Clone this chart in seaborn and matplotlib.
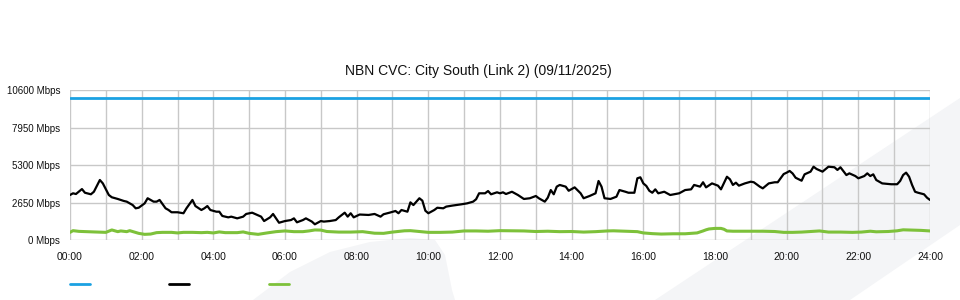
import numpy as np
import pandas as pd
import matplotlib
matplotlib.use("Agg")
import matplotlib.pyplot as plt
from matplotlib.patches import Polygon
from matplotlib.lines import Line2D
import seaborn as sns

title = "NBN CVC: City South (Link 2) (09/11/2025)"

# capacity (blue)
cap_minutes = [0, 1440]
cap_mbps = [10000, 10000]

# traffic (black)
tr_minutes = [0, 5, 10, 20, 25, 35, 40, 50, 55, 65, 70, 80, 90, 95, 105, 110, 115, 125, 130,
              140, 145, 150, 160, 165, 170, 180, 190, 195, 205, 210, 220, 225, 230, 235, 245,
              250, 255, 265, 270, 280, 290, 295, 305, 320, 325, 335, 340, 350, 360, 370, 375,
              380, 390, 395, 405, 410, 420, 425, 435, 445, 450, 460, 465, 470, 475, 485, 500,
              510, 520, 525, 535, 545, 550, 555, 565, 570, 575, 585, 590, 595, 600, 610, 615,
              625, 630, 640, 655, 665, 675, 680, 685, 695, 700, 705, 715, 720, 725, 730, 740,
              750, 760, 770, 780, 785, 795, 800, 805, 810, 815, 820, 830, 835, 845, 855, 860,
              870, 880, 885, 890, 895, 905, 915, 920, 930, 935, 945, 950, 955, 960, 965, 970,
              975, 980, 985, 995, 1005, 1020, 1030, 1040, 1045, 1055, 1060, 1065, 1075, 1085,
              1090, 1100, 1105, 1110, 1115, 1120, 1130, 1140, 1145, 1155, 1160, 1170, 1180,
              1185, 1195, 1200, 1205, 1210, 1215, 1225, 1230, 1240, 1245, 1250, 1260, 1270,
              1280, 1285, 1290, 1300, 1305, 1315, 1320, 1330, 1335, 1340, 1345, 1350, 1360,
              1375, 1385, 1390, 1395, 1400, 1405, 1410, 1415, 1420, 1430, 1435, 1440]
tr_mbps = [3180, 3300, 3250, 3600, 3340, 3230, 3410, 4240, 4000, 3180, 3020, 2900, 2760, 2710,
           2470, 2240, 2280, 2590, 2950, 2710, 2710, 2830, 2240, 2120, 1960, 1960, 1890, 2240,
           2830, 2400, 2120, 2240, 2400, 2120, 2000, 2000, 1700, 1600, 1650, 1530, 1650, 1840,
           1930, 1650, 1340, 1600, 1840, 1220, 1340, 1410, 1530, 1250, 1410, 1530, 1300, 1110,
           1340, 1300, 1340, 1410, 1600, 1930, 1650, 1890, 1600, 1800, 1770, 1840, 1650, 1820,
           1930, 2050, 1890, 2120, 2000, 2660, 2470, 2950, 2780, 2070, 1890, 2120, 2280, 2240,
           2360, 2430, 2520, 2590, 2710, 2880, 3300, 3300, 3460, 3230, 3370, 3300, 3370, 3250,
           3410, 3180, 2900, 2950, 3110, 2950, 2710, 2990, 3530, 3230, 3770, 3890, 3770, 3480,
           3720, 3300, 2950, 3110, 3300, 4170, 3770, 2950, 2900, 3060, 3530, 3410, 3340, 3340,
           4360, 4430, 4000, 3820, 3480, 3340, 3580, 3300, 3410, 3180, 3300, 3530, 3580, 3890,
           3770, 4080, 3720, 4000, 3840, 3580, 4470, 4290, 3890, 4050, 3840, 4000, 4120, 4080,
           3770, 3650, 4000, 4080, 4080, 4660, 4760, 4880, 4700, 4400, 4190, 4640, 4830, 5180,
           5020, 4830, 5180, 5140, 4950, 5140, 4590, 4710, 4520, 4360, 4520, 4710, 4520, 4640,
           4240, 4000, 3940, 3940, 4170, 4590, 4760, 4470, 3890, 3410, 3340, 3230, 2990, 2830]

# green series
gr_minutes = [0, 5, 15, 40, 60, 70, 80, 85, 95, 100, 115, 125, 135, 145, 155, 170, 180, 190,
              205, 220, 230, 240, 250, 260, 280, 290, 300, 315, 330, 345, 360, 375, 390, 400,
              410, 420, 430, 450, 470, 490, 510, 525, 540, 560, 570, 585, 600, 620, 640, 660,
              680, 700, 720, 740, 760, 780, 800, 820, 840, 860, 880, 900, 910, 930, 950, 960,
              975, 990, 1010, 1030, 1050, 1060, 1065, 1070, 1080, 1090, 1095, 1100, 1110, 1140,
              1160, 1180, 1195, 1210, 1225, 1240, 1255, 1270, 1290, 1310, 1325, 1340, 1350,
              1370, 1385, 1395, 1410, 1425, 1440]
gr_mbps = [540, 660, 610, 570, 540, 710, 590, 640, 590, 660, 470, 400, 420, 520, 540, 540, 500,
           540, 540, 520, 540, 500, 570, 520, 520, 570, 470, 400, 500, 590, 640, 590, 590, 640,
           710, 700, 600, 560, 560, 590, 480, 470, 560, 650, 660, 600, 540, 540, 560, 640, 640,
           620, 660, 650, 640, 600, 620, 590, 600, 560, 590, 640, 650, 620, 590, 500, 450, 420,
           440, 440, 500, 640, 720, 780, 820, 820, 760, 640, 620, 620, 620, 600, 540, 540, 560,
           600, 640, 560, 560, 540, 560, 620, 580, 600, 650, 720, 700, 680, 640]

y_ticks = [0, 2650, 5300, 7950, 10600]
y_labels = ["0 Mbps", "2650 Mbps", "5300 Mbps", "7950 Mbps", "10600 Mbps"]
x_ticks = [0, 2, 4, 6, 8, 10, 12, 14, 16, 18, 20, 22, 24]
x_labels = ["00:00", "02:00", "04:00", "06:00", "08:00", "10:00", "12:00",
            "14:00", "16:00", "18:00", "20:00", "22:00", "24:00"]

sns.set_theme(style="white")
plt.rcParams["font.family"] = ["Liberation Sans", "DejaVu Sans"]

W, H = 960, 300
fig = plt.figure(figsize=(9.6, 3.0), dpi=100)
fig.patch.set_facecolor("white")

def fc(pts):
    return [(x / W, 1 - y / H) for x, y in pts]

# background watermark shapes
wm = "#f4f5f7"
fig.patches.append(Polygon(fc([(655, 300), (960, 98), (960, 225), (850, 300)]),
                           closed=True, transform=fig.transFigure, facecolor=wm,
                           edgecolor="none", zorder=-2))
fig.patches.append(Polygon(fc([(253, 300), (290, 272), (330, 252), (370, 242), (410, 238),
                               (435, 240), (445, 255), (452, 290), (455, 300)]),
                           closed=True, transform=fig.transFigure, facecolor=wm,
                           edgecolor="none", zorder=-2))

ax = fig.add_axes([70 / W, 1 - 240 / H, 860 / W, 150 / H])
ax.set_facecolor("none")

blue, black, green = "#1ba1e2", "#000000", "#7dc13a"
sns.lineplot(x=np.array(cap_minutes) / 60, y=cap_mbps, color=blue, linewidth=2.0, ax=ax)
sns.lineplot(x=np.array(tr_minutes) / 60, y=tr_mbps, color=black, linewidth=1.6, ax=ax)
sns.lineplot(x=np.array(gr_minutes) / 60, y=gr_mbps, color=green, linewidth=2.2, ax=ax)

ax.set_xlim(0, 24)
ax.set_ylim(0, 10600)
ax.set_xticks(x_ticks)
ax.set_xticklabels(x_labels)
ax.set_xticks(np.arange(0, 25, 1), minor=True)
ax.set_yticks(y_ticks)
ax.set_yticklabels(y_labels)
ax.set_xlabel("")
ax.set_ylabel("")
for s in ax.spines.values():
    s.set_visible(False)
gcol = "#c8c8c8"
ax.grid(True, which="major", axis="both", color=gcol, linewidth=1.0)
ax.grid(True, which="minor", axis="x", color=gcol, linewidth=1.0)
ax.set_axisbelow(True)
ax.tick_params(axis="x", which="major", length=7, width=1.0, color=gcol, labelsize=7.5,
               pad=2, labelcolor="#111111")
ax.tick_params(axis="x", which="minor", length=0)
ax.tick_params(axis="y", length=0, labelsize=7, pad=7, labelcolor="#111111")

fig.text(478 / W, 1 - 71 / H, title, ha="center", va="center", fontsize=10, color="#111111")

handles = [Line2D([], [], color=blue, linewidth=2),
           Line2D([], [], color=black, linewidth=2),
           Line2D([], [], color=green, linewidth=2)]
fig.legend(handles, ["", "", ""], ncol=3, loc="center left",
           bbox_to_anchor=(70 / W, 1 - 285 / H), frameon=False, fontsize=10,
           handlelength=1.45, handletextpad=0.0, columnspacing=5.7, borderpad=0,
           borderaxespad=0)

fig.savefig("out.png", dpi=100)
